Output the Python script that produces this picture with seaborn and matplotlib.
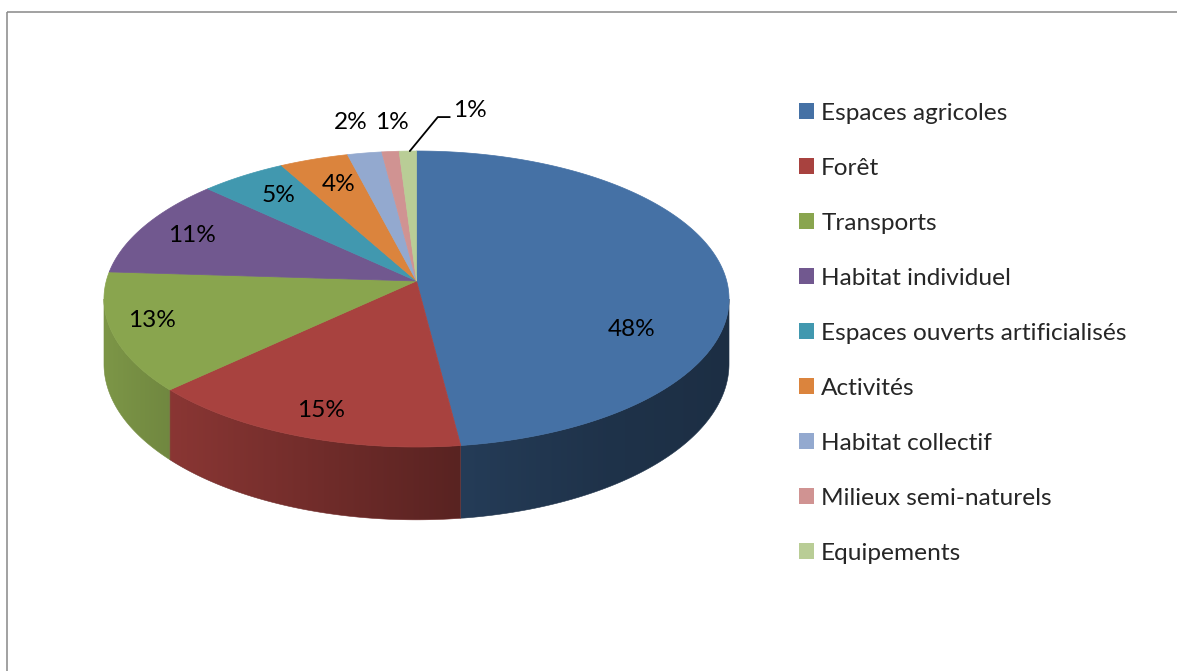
import numpy as np
import matplotlib
matplotlib.use("Agg")
import matplotlib.pyplot as plt
from matplotlib.patches import Polygon, Patch
import seaborn as sns

# Land-use shares (%)
categories = ["Espaces agricoles", "Forêt", "Transports", "Habitat individuel",
              "Espaces ouverts artificialisés", "Activités", "Habitat collectif",
              "Milieux semi-naturels", "Equipements"]
shares = [48, 15, 13, 11, 5, 4, 2, 1, 1]
colors = ["#4571a5", "#a8423f", "#89a54e", "#71588f", "#4198af",
          "#db843d", "#93a9cf", "#d09392", "#b9cd96"]

sns.set_theme(style="white")
plt.rcParams["font.family"] = ["Lato", "DejaVu Sans"]

W, H = 1177, 671
fig = plt.figure(figsize=(W / 100, H / 100), dpi=100)
ax = fig.add_axes([0, 0, 1, 1])
ax.set_xlim(0, W)
ax.set_ylim(H, 0)
ax.axis("off")

# Perspective view of a flat disc: centre, half axes, tilt and thickness
CX, CY = 416.5, 281.0
RA, RB, TILT = 310.2, 145.8, 0.1216
DEPTH = 64.0


def proj(t, r=1.0):
    u = r * np.cos(t)
    v = r * np.sin(t)
    k = 1 + TILT * v
    return CX + RA * u / k, CY - RB * v / k


def drop(t):
    return DEPTH / (1 + TILT * np.sin(t))


def shade(x):
    # lighting on the rim: brighter on the left, darker on the right
    return np.interp(x, [104, 170, 300, 460, 600, 730],
                     [0.91, 0.82, 0.69, 0.53, 0.45, 0.41])


palette = sns.color_palette(colors)
total = float(sum(shares))
bounds = 90.0 - 360.0 * np.concatenate([[0], np.cumsum(shares)]) / total

# visible front part of the rim (between the two silhouette lines)
sil = np.degrees(np.arcsin(TILT))
vis_lo, vis_hi = -180.0 + sil, -sil

# side walls
for i, col in enumerate(palette):
    a_hi, a_lo = bounds[i], bounds[i + 1]
    lo, hi = max(a_lo, vis_lo), min(a_hi, vis_hi)
    if hi <= lo:
        continue
    t = np.radians(np.linspace(lo, hi, 200))
    xt, yt = proj(t)
    yb = yt + drop(t)
    pts = np.vstack([np.column_stack([xt, yt]),
                     np.column_stack([xt[::-1], yb[::-1]])])
    poly = Polygon(pts, closed=True, facecolor="none", edgecolor="none")
    ax.add_patch(poly)
    x0, x1 = pts[:, 0].min(), pts[:, 0].max()
    y0, y1 = pts[:, 1].min(), pts[:, 1].max()
    xs = np.linspace(x0, x1, 400)
    grad = np.clip(np.array(col)[None, None, :] * shade(xs)[None, :, None], 0, 1)
    im = ax.imshow(grad, extent=(x0, x1, y1, y0), aspect="auto",
                   interpolation="bilinear", zorder=1)
    im.set_clip_path(poly)
    edge = Polygon(pts, closed=True, facecolor="none",
                   edgecolor=np.array(col) * shade((x0 + x1) / 2), lw=0.4, zorder=1.1)
    ax.add_patch(edge)

# top faces
for i, col in enumerate(palette):
    t = np.radians(np.linspace(bounds[i], bounds[i + 1], 300))
    xt, yt = proj(t)
    pts = np.vstack([[CX, CY], np.column_stack([xt, yt])])
    ax.add_patch(Polygon(pts, closed=True, facecolor=col, edgecolor=col,
                         lw=0.5, zorder=2))

# percentage labels: (radius factor, dx, dy) per slice
label_layout = [(0.70, 0, 55), (0.82, 0, 5), (0.875, 0, -5), (0.82, 0, 0),
                (0.78, 0, -2), (0.77, 3, 0), (1.27, -2, -1), (1.27, 8, 1), None]
fs = 17.6
for i, s in enumerate(shares):
    mid = np.radians((bounds[i] + bounds[i + 1]) / 2)
    lay = label_layout[i]
    if lay is not None:
        r, dx, dy = lay
        x, y = proj(mid, r)
        ax.text(x + dx, y + dy, f"{s}%", ha="center", va="center",
                fontsize=fs, color="black", zorder=5)
    else:
        ex, ey = proj(mid, 1.0)
        ex += 2
        kx, ky = ex + 28, ey - 34
        ax.plot([ex, kx, kx + 12], [ey, ky, ky], color="black", lw=1.3, zorder=5)
        ax.text(kx + 15, ky - 7, f"{s}%", ha="left", va="center",
                fontsize=fs, color="black", zorder=5)

# legend
handles = [Patch(facecolor=c, edgecolor="none") for c in palette]
ax.legend(handles, categories, loc="upper left", bbox_to_anchor=(799, 103),
          bbox_transform=ax.transData, frameon=False, fontsize=fs,
          handlelength=0.62, handleheight=0.62, handletextpad=0.29,
          labelspacing=1.39, borderpad=0, borderaxespad=0)

# chart frame
ax.plot([7, 7], [12, H + 5], color="#888888", lw=1.1, solid_capstyle="butt")
ax.plot([7, W + 5], [12, 12], color="#888888", lw=1.1, solid_capstyle="butt")

fig.savefig("out.png", dpi=100, facecolor="white")
